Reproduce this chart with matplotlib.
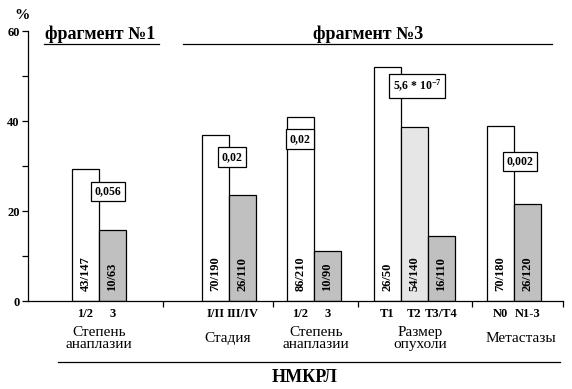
import matplotlib
matplotlib.use("Agg")
import matplotlib.pyplot as plt

plt.rcParams['font.family'] = ['Liberation Serif', 'DejaVu Serif']
plt.rcParams['mathtext.fontset'] = 'custom'
plt.rcParams['mathtext.rm'] = 'Liberation Serif:bold'
plt.rcParams['mathtext.bf'] = 'Liberation Serif:bold'
plt.rcParams['mathtext.default'] = 'rm'

# data
groups = ["Степень\nанаплазии", "Стадия", "Степень\nанаплазии", "Размер\nопухоли", "Метастазы"]
cats = [["1/2", "3"], ["I/II", "III/IV"], ["1/2", "3"], ["T1", "T2", "T3/T4"], ["N0", "N1-3"]]
counts = [["43/147", "10/63"], ["70/190", "26/110"], ["86/210", "10/90"],
          ["26/50", "54/140", "16/110"], ["70/180", "26/120"]]
pvals = ["0,056", "0,02", "0,02", "5,6 * 10$^{-7}$", "0,002"]

# layout (pixel-like x units)
starts = [72, 202, 287, 374, 487]
bw = 27
seps = [163, 273, 358, 472, 563]
pbox = [(108, 24.4), (232, 32.0), (300, 36.0), (417, 47.8), (520, 31.0)]
group_x = [99, 228, 316, 420, 521]
colors3 = ["white", "#e6e6e6", "#c0c0c0"]
colors2 = ["white", "#c0c0c0"]

fig = plt.figure(figsize=(5.72, 3.89), dpi=100)
ax = fig.add_axes([28/572, 88/389, (563-28)/572, 270/389])
ax.set_xlim(28, 563)
ax.set_ylim(0, 60)

for g in range(len(groups)):
    n = len(cats[g])
    cols = colors3 if n == 3 else colors2
    for i in range(n):
        a, b = counts[g][i].split("/")
        v = 100.0 * int(a) / int(b)
        x = starts[g] + i * bw
        ax.bar(x, v, width=bw, align='edge', color=cols[i], edgecolor='black', linewidth=0.9)
        ax.text(x + bw / 2, 2.2, counts[g][i], rotation=90, ha='center', va='bottom',
                fontsize=9, fontweight='bold')
        ax.text(x + bw / 2, -2.8, cats[g][i], ha='center', va='center', fontsize=9,
                fontweight='bold', clip_on=False)
    px, py = pbox[g]
    ax.text(px, py, pvals[g], ha='center', va='center', fontsize=8.5, fontweight='bold',
            bbox=dict(boxstyle='square,pad=0.3', fc='white', ec='black', lw=0.9))
    ax.text(group_x[g], -8.4, groups[g], ha='center', va='center', fontsize=11,
            linespacing=0.9, clip_on=False)

ax.spines['top'].set_visible(False)
ax.spines['right'].set_visible(False)
ax.spines['left'].set_linewidth(0.9)
ax.spines['bottom'].set_linewidth(0.9)
ax.set_yticks([0, 20, 40, 60])
ax.set_yticks([10, 30, 50], minor=True)
ax.tick_params(axis='y', which='both', direction='out', length=4, width=0.9, labelsize=9, pad=2)
for t in ax.get_yticklabels():
    t.set_fontweight('bold')
ax.set_xticks(seps)
ax.set_xticklabels([])
ax.tick_params(axis='x', direction='out', length=4, width=0.9)

ax.text(22, 63.4, "%", ha='center', va='center', fontsize=11, fontweight='bold', clip_on=False)

ax.text(100, 59.3, "фрагмент №1", ha='center', va='center', fontsize=13, fontweight='bold')
ax.text(368, 59.3, "фрагмент №3", ha='center', va='center', fontsize=13, fontweight='bold')
ax.plot([44, 159], [57.1, 57.1], color='black', lw=0.9, clip_on=False)
ax.plot([183, 552], [57.1, 57.1], color='black', lw=0.9, clip_on=False)

ax.plot([58, 560], [-13.5, -13.5], color='black', lw=0.9, clip_on=False)
ax.text(305, -17.0, "НМКРЛ", ha='center', va='center', fontsize=13, fontweight='bold', clip_on=False)

fig.savefig("out.png", dpi=100)
